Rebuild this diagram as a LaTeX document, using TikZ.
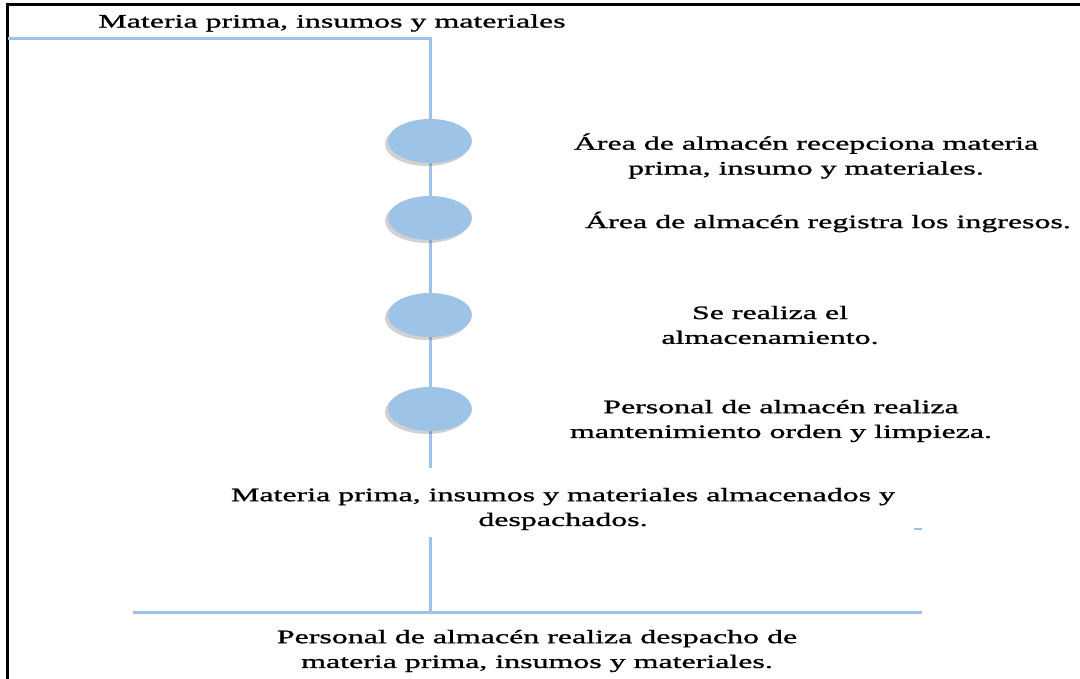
\documentclass[tikz,border=0pt]{standalone}
\usepackage{fontspec}
\setmainfont[FakeStretch=1.68,FakeBold=1.2]{Liberation Serif}
\usetikzlibrary{shadows,shapes.geometric}
\definecolor{lblue}{RGB}{157,195,230}
\tikzset{
  x=1pt, y=-1pt,
  link/.style={draw=lblue, line width=3pt},
  dot/.style={ellipse, fill=lblue, minimum width=84pt, minimum height=44pt, inner sep=0pt,
    drop shadow={shadow xshift=-3pt, shadow yshift=-3pt, opacity=0.3, fill=black!60}},
  lbl/.style={align=center, font=\fontsize{19}{24.8}\selectfont, inner sep=0pt, text=black},
}
\begin{document}
\begin{tikzpicture}
\useasboundingbox (0,0) rectangle (1080,679);
% frame
\draw[line width=3pt] (7,679) -- (7,5) -- (1080,5);
% top
\node[lbl] (top) at (332,23) {Materia prima, insumos y materiales};
\coordinate (tl) at (8,39);
\coordinate (tj) at (430,39);
\coordinate (ve) at (430,468);
\coordinate (vs) at (430,537);
\coordinate (bj) at (430,612);
\coordinate (bl) at (133,612);
\coordinate (br) at (922,612);
\coordinate (d1) at (914,529);
\coordinate (d2) at (922,529);
\draw[link] (tl) -- (tj) -- (ve);
\draw[link] (vs) -- (bj);
\draw[link] (bl) -- (br);
\draw[lblue, line width=2pt] (d1) -- (d2);
\node[dot] (e1) at (430,141) {};
\node[dot] (e2) at (430,218) {};
\node[dot] (e3) at (430,315) {};
\node[dot] (e4) at (430,409) {};
% texts
\node[lbl] (t1) at (806,156) {Área de almacén recepciona materia\\prima, insumo y materiales.};
\node[lbl] (t2) at (828,222) {Área de almacén registra los ingresos.};
\node[lbl] (t3) at (770,325) {Se realiza el\\almacenamiento.};
\node[lbl] (t4) at (781,421) {Personal de almacén realiza\\mantenimiento orden y limpieza.};
\node[lbl] (t5) at (563,509) {Materia prima, insumos y materiales almacenados y\\despachados.};
\node[lbl] (t6) at (537,651) {Personal de almacén realiza despacho de\\materia prima, insumos y materiales.};
\end{tikzpicture}
\end{document}
